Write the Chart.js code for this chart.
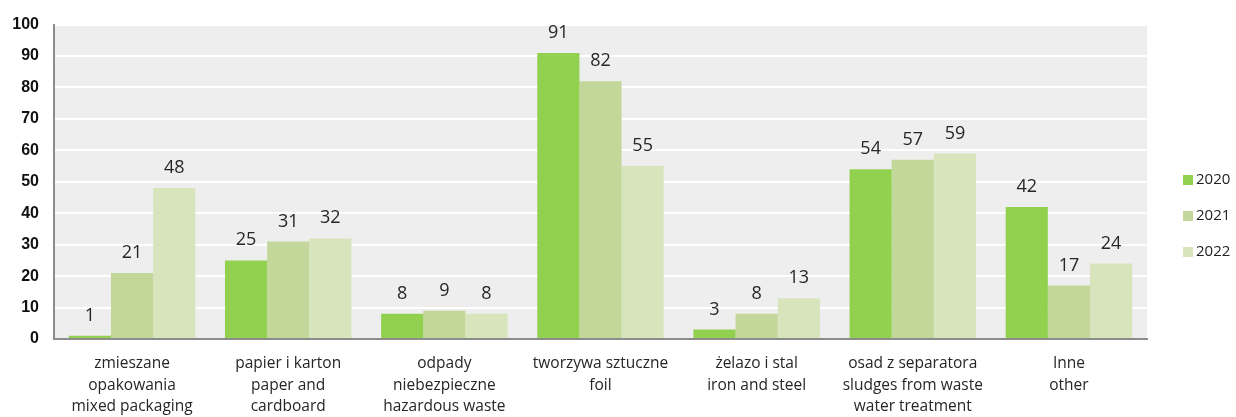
<!DOCTYPE html>
<html><head><meta charset="utf-8">
<script src="https://cdn.jsdelivr.net/npm/chart.js@4"></script>
<style>html,body{margin:0;padding:0;background:#fff}#wrap{width:1236px;height:417px;position:relative}</style>
</head><body><div id="wrap"><canvas id="c"></canvas></div>
<script>
const categories = [
  ["zmieszane","opakowania","mixed packaging"],
  ["papier i karton","paper and","cardboard"],
  ["odpady","niebezpieczne","hazardous waste"],
  ["tworzywa sztuczne","foil"],
  ["żelazo i stal","iron and steel"],
  ["osad z separatora","sludges from waste","water treatment"],
  ["Inne","other"]
];
const years = ["2020","2021","2022"];
const values2020 = [1, 25, 8, 91, 3, 54, 42];
const values2021 = [21, 31, 9, 82, 8, 57, 17];
const values2022 = [48, 32, 8, 55, 13, 59, 24];
const colors = ["#92d050","#c4d79b","#d8e4bc"];
const yTicks = [0,10,20,30,40,50,60,70,80,90,100];

const bgPlugin = {
  id:'bg',
  beforeDraw(chart){
    const {ctx, chartArea:a} = chart;
    ctx.save();
    ctx.fillStyle = '#eeeeee';
    ctx.fillRect(a.left, a.top, a.right-a.left, a.bottom-a.top);
    ctx.restore();
  },
  afterDatasetsDraw(chart){
    const {ctx} = chart;
    ctx.save();
    ctx.font = '18px "Open Sans"';
    ctx.fillStyle = '#262626';
    ctx.textAlign = 'center';
    ctx.textBaseline = 'alphabetic';
    chart.data.datasets.forEach((ds,i)=>{
      chart.getDatasetMeta(i).data.forEach((bar,j)=>{
        ctx.fillText(String(Math.round(ds.data[j])), bar.x, bar.y-15);
      });
    });
    // legend
    ctx.font = '15px "Open Sans"';
    ctx.textAlign = 'left';
    ctx.textBaseline = 'middle';
    years.forEach((y,i)=>{
      const cy = 180 + i*36;
      ctx.fillStyle = colors[i];
      ctx.fillRect(1183, cy-5, 10, 10);
      ctx.fillStyle = '#222';
      ctx.fillText(y, 1196, cy);
    });
    ctx.restore();
  }
};

new Chart(document.getElementById('c'), {
  type:'bar',
  data:{
    labels: categories,
    datasets: years.map((y,i)=>({
      label:y,
      data:[values2020,values2021,values2022][i],
      backgroundColor: colors[i],
      borderWidth:0,
      categoryPercentage:0.81,
      barPercentage:1.0
    }))
  },
  options:{
    responsive:true, maintainAspectRatio:false, animation:false,
    layout:{padding:{left:0,right:89,top:23,bottom:0}},
    plugins:{legend:{display:false}, tooltip:{enabled:false}},
    scales:{
      x:{
        grid:{display:false, drawTicks:false},
        border:{display:true, color:'#8c8c8c', width:2},
        ticks:{font:{family:'Open Sans', size:15.5, lineHeight:1.38}, color:'#262626', padding:14, maxRotation:0, autoSkip:false},
        afterFit(s){ s.height = 78; }
      },
      y:{
        min:0, max:100,
        afterBuildTicks(s){ s.ticks = yTicks.map(v=>({value:v})); },
        grid:{color:'#ffffff', lineWidth:2, drawTicks:false},
        border:{display:true, color:'#8c8c8c', width:2},
        ticks:{font:{family:'Liberation Sans', size:16, weight:'bold'}, color:'#111', padding:15},
        afterFit(s){ s.width = 54; }
      }
    }
  },
  plugins:[bgPlugin]
});
</script></body></html>
